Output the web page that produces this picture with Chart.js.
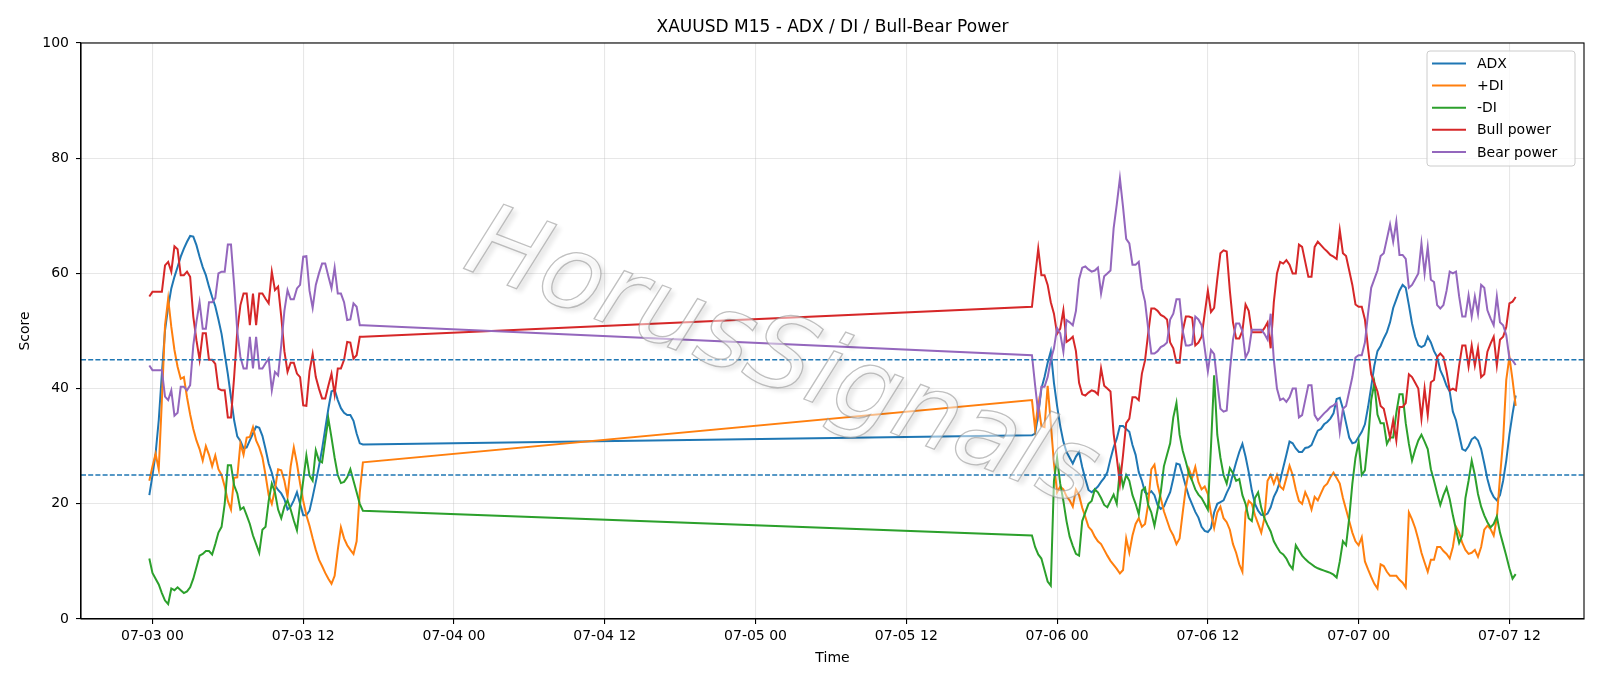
<!DOCTYPE html>
<html>
<head>
<meta charset="utf-8">
<script src="https://cdn.jsdelivr.net/npm/chart.js@4.4.1/dist/chart.umd.min.js"></script>
<style>
  html, body { margin: 0; padding: 0; background: #fff; }
  #wrap { width: 1600px; height: 686px; }
</style>
</head>
<body>
<div id="wrap"><canvas id="chart" width="1600" height="686"></canvas></div>
<script>
// time = hours since 07-03 00:00, one value per M15 bar
// two trading blocks: Friday session, then from Sunday open
const sessions = [[-0.25, 16.75], [70, 108.5]];
const barHours = 0.25;

const adx = [
  21.5, 24.9, 28.7, 34.5, 42.6, 50.1, 54.2, 57.4, 59.4, 61.1,
  62.9, 64.3, 65.5, 66.5, 66.4, 64.9, 62.9, 61.1, 59.7, 57.7,
  55.9, 54.3, 52, 49.5, 46, 42.5, 38.5, 34.5, 31.7, 30.9,
  29.6, 29.8, 31, 32.2, 33.4, 33.2, 31.8, 29.5, 27, 25.4,
  23.2, 22.4, 21.8, 20.8, 19, 19.5, 20.6, 22, 20, 18,
  18, 18.8, 21.2, 23.8, 26.5, 29.5, 33, 36.5, 39.5, 39.8,
  38, 36.6, 35.8, 35.4, 35.4, 34.4, 32.2, 30.5, 30.3,
  31.9, 32.2, 35.5, 40, 42, 44.5, 46.5, 41, 37, 33.5,
  30.8, 29, 28, 27, 28.2, 29, 26.4, 24.3, 22.4, 22,
  22.5, 23, 23.8, 24.5, 25.5, 27.8, 29.8, 31.3, 33.5, 33.5,
  33, 32.5, 30.2, 28.5, 25.5, 24, 22, 21.7, 22.2, 21.5,
  19.8, 19.1, 19.5, 20.8, 22, 24.4, 27, 26.8, 25, 23,
  21.2, 19.9, 18.6, 17.6, 16, 15.3, 15.1, 15.8, 18.5, 20,
  20.3, 20.6, 21.9, 23, 25.2, 27.2, 29, 30.4, 28.2, 25.5,
  22.3, 20, 18.8, 18.1, 18, 18.3, 19.4, 21.2, 22.3, 24,
  26.3, 28.5, 30.8, 30.5, 29.6, 29, 29, 29.7, 29.8, 30.2,
  31.5, 32.7, 33, 33.8, 34.2, 34.8, 35.7, 38.2, 38.4, 36.5,
  34, 31.5, 30.5, 30.7, 31.6, 32.5, 33.8, 36.8, 40.3, 44,
  46.5, 47.4, 48.7, 49.8, 51.5, 54, 55.5, 57, 58, 57.5,
  54.5, 51.3, 49, 47.5, 47.2, 47.5, 49, 48, 46.5, 45.5,
  43.2, 42, 40.5, 39.5, 36, 34.5, 32, 29.5, 29.2, 30,
  31.2, 31.6, 31, 29.5, 27, 24.3, 22.3, 21.2, 20.6, 21.5,
  24, 27.5, 32, 35.6, 38.8
];

const plusDI = [
  24, 26.5, 28.7, 26, 38, 51, 55.6, 50.7, 46.7, 43.8,
  41.7, 42, 38.5, 35.5, 33, 31, 29.5, 27.5, 30, 28.5,
  26.5, 28.4, 26, 25, 23, 20.5, 19, 24.5, 24.6, 30.5,
  28.5, 31.5, 31.6, 33.3, 31, 29.8, 28.1, 25, 21.5, 20,
  22.5, 26, 25.8, 24, 21.2, 26.5, 29.8, 27, 23.5, 20.5,
  18, 16.2, 14, 12, 10.3, 9.2, 8, 7, 6.1, 7.5,
  12, 15.9, 14, 12.8, 12, 11.3, 13.5, 22, 27.2,
  38, 33, 37.5, 33.5, 33.3, 40.5, 34, 27, 22, 23,
  22.5, 21.3, 20.6, 19.5, 22.5, 21.5, 19.3, 17.7, 16, 15.4,
  14.3, 13.5, 13, 12, 11, 10.1, 9.4, 8.7, 7.9, 8.5,
  14, 11.5, 14.5, 16.5, 17.5, 16, 16.5, 20, 26, 26.8,
  23.3, 21, 18.7, 17.1, 15.5, 14.5, 13, 14, 18.5, 22.8,
  26, 24.5, 26.4, 23.8, 22.5, 23, 21.7, 18.3, 15.8, 18.5,
  19.5, 17.5, 16.8, 15.5, 13, 11.5, 9.5, 8.2, 18.5, 20.5,
  20, 18, 16.5, 15, 17.5, 24, 25, 23.5, 25, 23,
  22.5, 24.5, 26.6, 25, 22.5, 20.5, 20, 22, 20.8, 19,
  21.2, 20.6, 21.8, 23, 23.5, 24.6, 25.4, 24.5, 23.5, 21,
  19, 17, 15, 13.5, 12.8, 14.2, 10, 8.6, 7.3, 6.1,
  5.3, 9.5, 9.2, 8.2, 7.5, 7.5, 7.5, 6.8, 6.3, 5.5,
  18.5, 17.3, 15.8, 13.8, 11.5, 9.8, 8.2, 10.3, 10.3, 12.5,
  12.5, 11.8, 11.3, 10.5, 12.5, 16, 15, 13.2, 12, 11.3,
  11.5, 12, 10.8, 12.5, 15.5, 16.2, 15.6, 14.5, 17.5, 24.6,
  31, 41.5, 45.5, 41.5, 37
];

const minusDI = [
  10.5, 8, 7, 6, 4.5, 3.2, 2.6, 5.3, 5, 5.5,
  5, 4.5, 4.8, 5.5, 7, 9, 11, 11.3, 11.8, 11.8,
  11.2, 13, 15, 16, 20, 26.7, 26.7, 23.2, 21.8, 19,
  19.4, 18, 16.5, 14.5, 13, 11.5, 15.5, 16, 20.5, 23.5,
  22, 19, 17.5, 19.5, 20.6, 19, 17.1, 15.4, 20, 24,
  28.4, 24.9, 24, 29.3, 27.5, 27.2, 31, 34.8, 31.5, 28,
  25, 23.6, 23.8, 24.6, 26, 24, 22, 20, 18.8,
  14.5, 12.5, 11.2, 10.5, 8.5, 6.5, 5.8, 24, 28, 23.5,
  20.5, 17, 14.3, 12.7, 11.3, 11, 17, 18.5, 20, 20.5,
  22.5, 22, 21, 19.8, 19.4, 20.5, 21.6, 20, 26, 23,
  25, 24, 21.5, 20, 18.2, 22.3, 22.8, 19.8, 18.5, 16.2,
  19, 22, 26.5, 28.5, 30.5, 35, 37.5, 32, 29.2, 27.3,
  25.2, 24, 22.5, 21.6, 21, 20, 19, 30, 42.3, 32,
  28, 25, 23.5, 26.2, 25.3, 24, 24.3, 21.5, 20, 17.5,
  17, 21, 22, 19.3, 17.5, 16.3, 15.2, 13.5, 12.5, 11.6,
  11.2, 10.5, 9.4, 8.7, 12.8, 11.9, 11, 10.4, 9.9, 9.5,
  9.1, 8.8, 8.6, 8.4, 8.2, 8, 7.7, 7.2, 10, 13.5,
  12.8, 17.5, 23.5, 28, 30.7, 25, 25.8, 31, 38, 41,
  35.5, 34, 34, 30.4, 31.5, 31.5, 35.8, 39, 39, 34,
  30.4, 27.5, 29.4, 31, 32, 30.8, 29.5, 26, 24, 21.8,
  19.8, 21.5, 22.8, 20.8, 18, 15.5, 13.2, 14.5, 21, 24,
  27.5, 25, 21.7, 19.5, 18, 16.8, 15.9, 16.5, 17.8, 15,
  13, 11, 8.8, 7, 7.8
];

const bullPower = [
  56, 56.8, 56.8, 56.8, 56.8, 61.4, 62, 60.3, 64.7, 64.2,
  59.7, 59.7, 60.3, 59.4, 52.5, 48.4, 45, 49.6, 49.6, 45,
  45, 44.3, 40, 39.7, 39.7, 35, 35, 42, 50, 54.5,
  56.5, 56.5, 51, 56.5, 51, 56.5, 56.5, 55.6, 54.8, 60.3,
  57.1, 57.7, 52.5, 46.5, 42.9, 44.5, 44.5, 42.6, 42, 37.1,
  37, 43, 46, 42, 40, 38.3, 38.3, 40.5, 42.6, 39,
  43.5, 43.5, 45, 48.1, 48, 45.2, 45.8, 49, 49,
  54.2, 59.4, 64.3, 59.7, 59.7, 58, 55, 53, 49.5, 50.4,
  53.6, 48.1, 48.5, 49, 46.5, 41, 39, 38.8, 39.3, 39.7,
  39.5, 39, 43.5, 40.5, 40, 39.5, 32.2, 28, 23.5, 28.5,
  34, 34.8, 38.5, 38.5, 38, 42.6, 44.9, 49.6, 53.9, 53.9,
  53.5, 52.8, 52.5, 52, 48, 47, 44.5, 44.5, 50, 52.5,
  52.5, 52.3, 47.5, 48, 49, 53, 57, 53.3, 54, 59,
  63.5, 64, 63.8, 57, 51.5, 48.7, 48.7, 50, 54.6, 53.5,
  49.8, 49.8, 49.8, 49.8, 50.5, 51.5, 47, 55, 60, 62,
  61.7, 62.3, 61.5, 60, 60, 65, 64.6, 62, 59.4, 59.4,
  64.6, 65.5, 64.9, 64.3, 63.8, 63.2, 62.9, 62.5, 67.5, 63.5,
  63, 60.5, 58, 54.6, 54.2, 54.2, 52, 47, 42.5, 41,
  39.5, 37, 36.5, 34, 31.5, 34.5, 31, 36.8, 36.8, 37.5,
  42.5, 42, 41, 40, 34.8, 40, 35.4, 41.1, 41.5, 45.5,
  46.1, 45.5, 43, 39.7, 40, 39.7, 44, 47.5, 47.5, 43.8,
  47.5, 44, 47, 42, 42.5, 46.4, 47.8, 49, 44, 48.5,
  49, 50.7, 54.8, 55.1, 55.9
];

const bearPower = [
  44, 43.2, 43.2, 43.2, 43.2, 38.6, 38, 39.7, 35.3, 35.8,
  40.3, 40.3, 39.7, 40.6, 47.5, 51.6, 55, 50.4, 50.4, 55,
  55, 55.7, 60, 60.3, 60.3, 65, 65, 58, 50, 45.5,
  43.5, 43.5, 49, 43.5, 49, 43.5, 43.5, 44.4, 45.2, 39.7,
  42.9, 42.3, 47.5, 53.5, 57.1, 55.5, 55.5, 57.4, 58, 62.9,
  63, 57, 54, 58, 60, 61.7, 61.7, 59.5, 57.4, 61,
  56.5, 56.5, 55, 51.9, 52, 54.8, 54.2, 51, 51,
  45.8, 40.6, 35.7, 40.3, 40.3, 42, 45, 47, 50.5, 49.6,
  46.4, 51.9, 51.5, 51, 53.5, 59, 61, 61.2, 60.7, 60.3,
  60.5, 61, 56.5, 59.5, 60, 60.5, 67.8, 72, 76.5, 71.5,
  66, 65.2, 61.5, 61.5, 62, 57.4, 55.1, 50.4, 46.1, 46.1,
  46.5, 47.2, 47.5, 48, 52, 53, 55.5, 55.5, 50, 47.5,
  47.5, 47.7, 52.5, 52, 51, 47, 43, 46.7, 46, 41,
  36.5, 36, 36.2, 43, 48.5, 51.3, 51.3, 50, 45.4, 46.5,
  50.2, 50.2, 50.2, 50.2, 49.5, 48.5, 53, 45, 40, 38,
  38.3, 37.7, 38.5, 40, 40, 35, 35.4, 38, 40.6, 40.6,
  35.4, 34.5, 35.1, 35.7, 36.2, 36.8, 37.1, 37.5, 32.5, 36.5,
  37, 39.5, 42, 45.4, 45.8, 45.8, 48, 53, 57.5, 59,
  60.5, 63, 63.5, 66, 68.5, 65.5, 69, 63.2, 63.2, 62.5,
  57.5, 58, 59, 60, 65.2, 60, 64.6, 58.9, 58.5, 54.5,
  53.9, 54.5, 57, 60.3, 60, 60.3, 56, 52.5, 52.5, 56.2,
  52.5, 56, 53, 58, 57.5, 53.6, 52.2, 51, 56, 51.5,
  51, 49.3, 45.2, 44.9, 44.1
];

const thresholds = [25, 45];
const yTicks = [0, 20, 40, 60, 80, 100];

// bar timestamps for the two sessions
const times = [];
sessions.forEach(([a, b]) => {
  for (let t = a; t <= b + 1e-9; t += barHours) times.push(t);
});

const span = times[times.length - 1] - times[0];
const xMin = times[0] - 0.05 * span;
const xMax = times[times.length - 1] + 0.05 * span;

function pts(values) {
  return values.map((v, i) => ({ x: times[i], y: v }));
}

function fmtTime(h) {
  const day = 3 + Math.floor(h / 24);
  const hour = ((h % 24) + 24) % 24;
  return '07-' + String(day).padStart(2, '0') + ' ' + String(hour).padStart(2, '0');
}

const series = [
  { label: 'ADX', values: adx, color: '#1f77b4' },
  { label: '+DI', values: plusDI, color: '#ff7f0e' },
  { label: '-DI', values: minusDI, color: '#2ca02c' },
  { label: 'Bull power', values: bullPower, color: '#d62728' },
  { label: 'Bear power', values: bearPower, color: '#9467bd' },
];

const datasets = series.map((s, i) => ({
  label: s.label,
  data: pts(s.values),
  borderColor: s.color,
  backgroundColor: s.color,
  borderWidth: 2,
  pointRadius: 0,
  tension: 0,
  fill: false,
  order: series.length - i + 1,
}));

thresholds.forEach(v => {
  datasets.push({
    label: '',
    data: [{ x: xMin, y: v }, { x: xMax, y: v }],
    borderColor: '#1f77b4',
    borderWidth: 1.4,
    borderDash: [5, 2.2],
    pointRadius: 0,
    fill: false,
    order: 0,
  });
});

Chart.defaults.font.family = '"DejaVu Sans", sans-serif';
Chart.defaults.font.size = 14;
Chart.defaults.color = '#000';

const frame = {
  id: 'frame',
  afterDatasetsDraw(chart) {
    const { ctx, chartArea: a } = chart;
    // watermark
    ctx.save();
    ctx.translate(781, 362);
    ctx.rotate(21 * Math.PI / 180);
    ctx.font = 'italic 102px "DejaVu Sans", sans-serif';
    ctx.textAlign = 'center';
    ctx.textBaseline = 'middle';
    ctx.shadowColor = 'rgba(0,0,0,0.16)';
    ctx.shadowOffsetX = 5;
    ctx.shadowOffsetY = 4;
    ctx.shadowBlur = 4;
    ctx.fillStyle = 'rgba(255,255,255,0.5)';
    ctx.fillText('HorusSignals', 0, 0);
    ctx.shadowColor = 'transparent';
    ctx.strokeStyle = 'rgba(150,150,150,0.6)';
    ctx.lineWidth = 1.3;
    ctx.strokeText('HorusSignals', 0, 0);
    ctx.restore();

    // axes box
    ctx.save();
    ctx.strokeStyle = '#000';
    ctx.lineWidth = 1.1;
    ctx.strokeRect(a.left, a.top, a.right - a.left, a.bottom - a.top);
    ctx.restore();
  },
  afterDraw(chart) {
    const { ctx, chartArea: a } = chart;
    // title
    ctx.save();
    ctx.font = '17px "DejaVu Sans", sans-serif';
    ctx.fillStyle = '#000';
    ctx.textAlign = 'center';
    ctx.textBaseline = 'alphabetic';
    ctx.fillText('XAUUSD M15 - ADX / DI / Bull-Bear Power', (a.left + a.right) / 2, 32);
    ctx.restore();

    // legend (upper right)
    const items = chart.data.datasets.filter(d => d.label);
    const bx = 1427, by = 51, bw = 148, bh = 115, r = 3;
    ctx.save();
    ctx.beginPath();
    ctx.moveTo(bx + r, by);
    ctx.arcTo(bx + bw, by, bx + bw, by + bh, r);
    ctx.arcTo(bx + bw, by + bh, bx, by + bh, r);
    ctx.arcTo(bx, by + bh, bx, by, r);
    ctx.arcTo(bx, by, bx + bw, by, r);
    ctx.closePath();
    ctx.fillStyle = 'rgba(255,255,255,0.8)';
    ctx.fill();
    ctx.strokeStyle = '#cccccc';
    ctx.lineWidth = 1;
    ctx.stroke();
    ctx.font = '14px "DejaVu Sans", sans-serif';
    ctx.textBaseline = 'middle';
    ctx.textAlign = 'left';
    items.forEach((d, i) => {
      const y = by + 12.5 + i * 22.1;
      ctx.strokeStyle = d.borderColor;
      ctx.lineWidth = 2;
      ctx.beginPath();
      ctx.moveTo(bx + 5, y);
      ctx.lineTo(bx + 39, y);
      ctx.stroke();
      ctx.fillStyle = '#000';
      ctx.fillText(d.label, bx + 50, y + 1);
    });
    ctx.restore();
  }
};

new Chart(document.getElementById('chart'), {
  type: 'line',
  data: { datasets },
  options: {
    responsive: false,
    animation: false,
    layout: { padding: { top: 43, right: 16, left: 0, bottom: 0 } },
    scales: {
      x: {
        type: 'linear',
        min: xMin,
        max: xMax,
        afterFit: s => { s.height = 67; },
        border: { color: '#000', width: 1.1 },
        grid: {
          color: 'rgba(176,176,176,0.3)',
          lineWidth: 1.1,
          tickColor: '#000',
          tickLength: 5,
          tickWidth: 1.1,
        },
        ticks: {
          stepSize: 12,
          includeBounds: false,
          maxRotation: 0,
          autoSkip: false,
          padding: 4,
          callback: v => fmtTime(v),
        },
        title: { display: true, text: 'Time', padding: { top: 0, bottom: 19 } },
      },
      y: {
        min: yTicks[0],
        max: yTicks[yTicks.length - 1],
        afterFit: s => { s.width = 81; },
        afterBuildTicks: s => { s.ticks = yTicks.map(v => ({ value: v })); },
        border: { color: '#000', width: 1.1 },
        grid: {
          color: 'rgba(176,176,176,0.3)',
          lineWidth: 1.1,
          tickColor: '#000',
          tickLength: 5,
          tickWidth: 1.1,
        },
        ticks: { padding: 7 },
        title: { display: true, text: 'Score', padding: { top: 17, bottom: 0 } },
      },
    },
    plugins: {
      legend: { display: false },
      tooltip: { enabled: false },
      title: { display: false },
    },
  },
  plugins: [frame],
});
</script>
</body>
</html>
